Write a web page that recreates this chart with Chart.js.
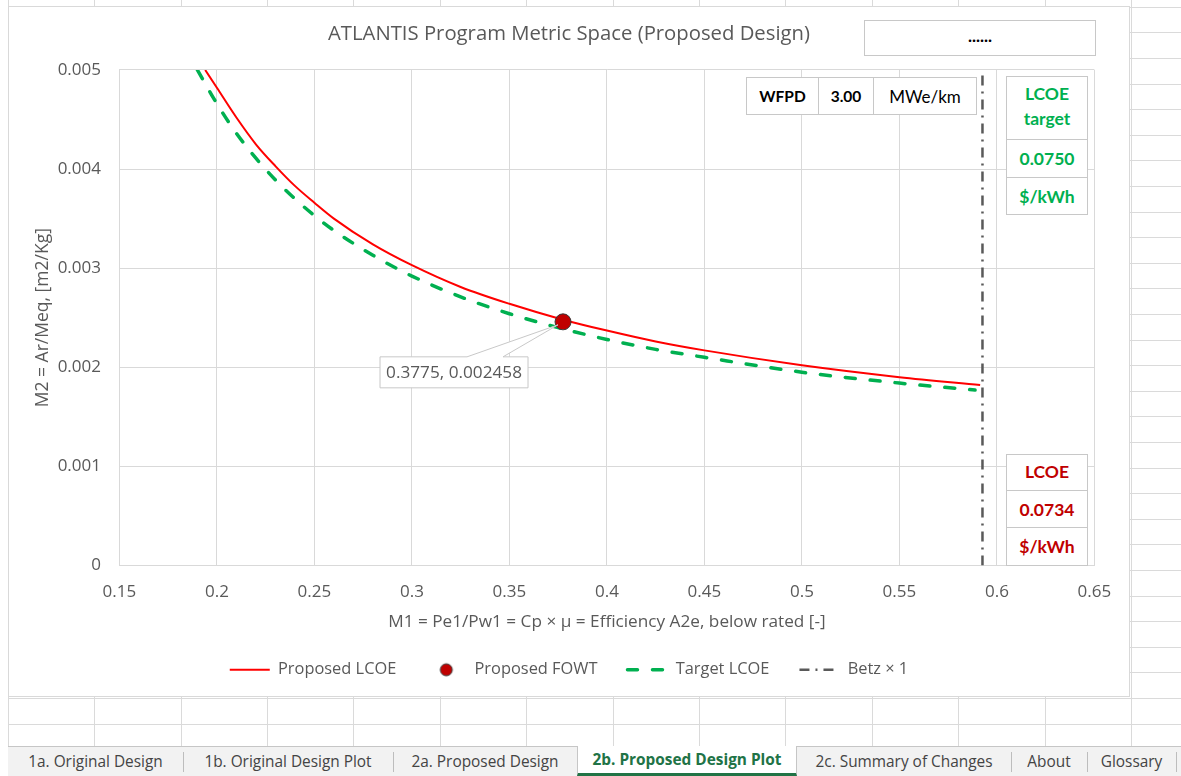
<!DOCTYPE html>
<html>
<head>
<meta charset="utf-8">
<title>ATLANTIS Program Metric Space</title>
<script src="https://cdn.jsdelivr.net/npm/chart.js@4.4.1/dist/chart.umd.min.js"></script>
<style>
  body { margin:0; width:1181px; height:776px; overflow:hidden; background:#fff; font-family: "Open Sans", Lato, sans-serif; position:relative; }
  .hl { position:absolute; height:1px; background:#dadada; }
  .vl { position:absolute; width:1px; background:#dadada; }
  #chartBox { position:absolute; left:8px; top:6px; width:1122px; height:691px; box-sizing:border-box; border:1px solid #d9d9d9; background:#fff; }
  #chartBox canvas { position:absolute; left:0; top:0; }
  .box { position:absolute; border-collapse:collapse; background:#fff; font-family: Lato, sans-serif; font-weight:bold; }
  .box td { border:1px solid #c8c8c8; text-align:center; padding:0; box-sizing:border-box; }
  #dots { position:absolute; left:864px; top:20px; width:232px; height:36px; box-sizing:border-box; border:1px solid #c8c8c8; background:#fff; text-align:center; line-height:30px; font-weight:bold; font-size:17px; font-family: Lato, sans-serif; }
  #tabs { position:absolute; left:8px; top:746px; width:1173px; height:30px; background:#f2f2f2; border-top:1px solid #c6c6c6; box-sizing:border-box; }
  .tab { position:absolute; top:0; height:29px; line-height:29px; text-align:center; font-size:15.4px; color:#444; }
  .sep { position:absolute; top:5px; width:1px; height:20px; background:#bdbdbd; }
  .tab.active { background:#fff; color:#217346; font-weight:bold; top:-1px; height:30px; border-left:1px solid #c6c6c6; border-right:1px solid #c6c6c6; box-sizing:border-box; border-bottom:3px solid #217346; line-height:28px; font-size:15.4px; }
</style>
</head>
<body>
<div id="sheet"></div>
<div id="chartBox"><canvas id="metricChart" width="1120" height="689"></canvas></div>

<div id="dots">......</div>

<table class="box" style="left:746px; top:77px; width:231px; height:38px; color:#000; font-size:15.5px;">
  <tr><td style="width:72px">WFPD</td><td style="width:55px">3.00</td><td style="font-weight:normal; font-size:17px">MWe/km</td></tr>
</table>

<table class="box" style="left:1006px; top:76px; width:82px; height:138px; color:#00b050; font-size:17.5px;">
  <tr><td style="height:63px; line-height:25px; padding-bottom:5px">LCOE<br>target</td></tr>
  <tr><td style="height:38px">0.0750</td></tr>
  <tr><td style="height:37px">$/kWh</td></tr>
</table>

<table class="box" style="left:1006px; top:454px; width:82px; height:111px; color:#c00000; font-size:17.5px;">
  <tr><td style="height:36px; padding-bottom:2px">LCOE</td></tr>
  <tr><td style="height:37px">0.0734</td></tr>
  <tr><td style="height:38px">$/kWh</td></tr>
</table>

<div id="tabs"></div>

<script>
// curve values
const propX = [0.194, 0.2, 0.21, 0.22, 0.23, 0.24, 0.25, 0.26, 0.28, 0.3, 0.325, 0.35, 0.3775, 0.4, 0.425, 0.45, 0.5, 0.55, 0.5914];
const propY = [0.00500, 0.00482, 0.00452, 0.00425, 0.00403, 0.00383, 0.00366, 0.00350, 0.00324, 0.00303, 0.00281, 0.00264, 0.00248, 0.00237, 0.00226, 0.00217, 0.00202, 0.00190, 0.00182];
const targX = [0.19, 0.2, 0.21, 0.22, 0.23, 0.24, 0.25, 0.26, 0.28, 0.3, 0.325, 0.35, 0.375, 0.4, 0.425, 0.45, 0.5, 0.55, 0.5888];
const targY = [0.00500, 0.00466, 0.00436, 0.00411, 0.00389, 0.00370, 0.00353, 0.00338, 0.00313, 0.00292, 0.00271, 0.00254, 0.00240, 0.00228, 0.00218, 0.00210, 0.00195, 0.00184, 0.00177];
const fowtX = [0.3775];
const fowtY = [0.002458];
const betzX = [0.5926, 0.5926];
const betzY = [0, 0.005];

const xTickLabels = ["0.15", "0.2", "0.25", "0.3", "0.35", "0.4", "0.45", "0.5", "0.55", "0.6", "0.65"];
const yTickLabels = ["0", "0.001", "0.002", "0.003", "0.004", "0.005"];
const seriesNames = ["Proposed LCOE", "Proposed FOWT", "Target LCOE", "Betz \u00d7 1"];
const tabNames = ["1a. Original Design", "1b. Original Design Plot", "2a. Proposed Design", "2b. Proposed Design Plot", "2c. Summary of Changes", "About", "Glossary"];

// spreadsheet grid behind the chart
const sheet = document.getElementById("sheet");
for (let k = 0; k < 14; k++) {
    const d = document.createElement("div");
    d.className = "vl";
    d.style.left = Math.round(7.7 + 86.4 * k) + "px";
    d.style.top = "0px";
    d.style.height = "746px";
    sheet.appendChild(d);
}
for (let k = 0; k < 29; k++) {
    const d = document.createElement("div");
    d.className = "hl";
    d.style.left = "8px";
    d.style.width = "1173px";
    d.style.top = Math.round(6.7 + 25.6 * k) + "px";
    sheet.appendChild(d);
}

// sheet tabs
const tabEdges = [0, 175, 385, 569, 789, 1003, 1079, 1168];
const tabs = document.getElementById("tabs");
tabNames.forEach((name, i) => {
    const t = document.createElement("div");
    t.className = "tab" + (i === 3 ? " active" : "");
    t.style.left = tabEdges[i] + "px";
    t.style.width = (tabEdges[i + 1] - tabEdges[i]) + "px";
    t.textContent = name;
    tabs.appendChild(t);
    if (i !== 2 && i !== 3) {
        const s = document.createElement("div");
        s.className = "sep";
        s.style.left = tabEdges[i + 1] + "px";
        tabs.appendChild(s);
    }
});

const toPoints = (xs, ys) => xs.map((x, i) => ({ x: x, y: ys[i] }));

// legend marker for the single point series
const dotImg = document.createElement("canvas");
dotImg.width = 16;
dotImg.height = 16;
const dc = dotImg.getContext("2d");
dc.beginPath();
dc.arc(8, 8, 6, 0, Math.PI * 2);
dc.fillStyle = "#c00000";
dc.fill();
dc.lineWidth = 1;
dc.strokeStyle = "#3a3a3a";
dc.stroke();

const font = "Open Sans";
const grey = "#595959";

// data label with callout for the design point
const callout = {
    id: "callout",
    afterDatasetsDraw(chart) {
        const pt = chart.getDatasetMeta(1).data[0];
        const ctx = chart.ctx;
        const x = pt.x, y = pt.y;
        const bx = x - 183, by = y + 35, bw = 148, bh = 31;
        ctx.save();
        ctx.beginPath();
        ctx.moveTo(bx, by);
        ctx.lineTo(x - 96, by);
        ctx.lineTo(x - 5, y + 3);
        ctx.lineTo(x - 60, by);
        ctx.lineTo(bx + bw, by);
        ctx.lineTo(bx + bw, by + bh);
        ctx.lineTo(bx, by + bh);
        ctx.closePath();
        ctx.fillStyle = "#fff";
        ctx.fill();
        ctx.strokeStyle = "#c8c8c8";
        ctx.lineWidth = 1;
        ctx.stroke();
        ctx.fillStyle = grey;
        ctx.font = "17.2px " + font;
        ctx.textAlign = "center";
        ctx.textBaseline = "middle";
        ctx.fillText(fowtX[0] + ", " + fowtY[0], bx + bw / 2, by + bh / 2 + 1);
        ctx.restore();
    }
};

new Chart(document.getElementById("metricChart"), {
    type: "line",
    data: {
        datasets: [
            {
                label: seriesNames[0],
                data: toPoints(propX, propY),
                borderColor: "#ff0000",
                backgroundColor: "#ff0000",
                borderWidth: 2,
                pointRadius: 0,
                cubicInterpolationMode: "monotone"
            },
            {
                label: seriesNames[1],
                data: toPoints(fowtX, fowtY),
                showLine: false,
                pointRadius: 8,
                pointBackgroundColor: "#c00000",
                pointBorderColor: "#3a3a3a",
                pointBorderWidth: 1,
                order: -1
            },
            {
                label: seriesNames[2],
                data: toPoints(targX, targY),
                borderColor: "#00b050",
                backgroundColor: "#00b050",
                borderWidth: 3.5,
                borderDash: [10, 15],
                borderCapStyle: "round",
                pointRadius: 0,
                cubicInterpolationMode: "monotone"
            },
            {
                label: seriesNames[3],
                data: toPoints(betzX, betzY),
                borderColor: grey,
                backgroundColor: grey,
                borderWidth: 2.5,
                borderDash: [10, 6, 2, 6],
                pointRadius: 0
            }
        ]
    },
    options: {
        responsive: false,
        animation: false,
        layout: { padding: { left: 0, right: 0, top: 0, bottom: 8 } },
        plugins: {
            tooltip: { enabled: false },
            title: {
                display: true,
                text: "ATLANTIS Program Metric Space (Proposed Design)",
                color: grey,
                font: { family: font, size: 20.3, weight: "normal" },
                padding: { top: 14.8, bottom: 23.8 }
            },
            legend: {
                position: "bottom",
                labels: {
                    color: grey,
                    font: { family: font, size: 16.4 },
                    usePointStyle: true,
                    pointStyleWidth: 40,
                    boxHeight: 8,
                    padding: 30,
                    sort: (a, b) => a.datasetIndex - b.datasetIndex,
                    generateLabels(chart) {
                        const items = Chart.defaults.plugins.legend.labels.generateLabels(chart);
                        items.forEach(it => {
                            const ds = chart.data.datasets[it.datasetIndex];
                            if (it.datasetIndex === 1) {
                                it.pointStyle = dotImg;
                            } else {
                                it.pointStyle = "line";
                                it.strokeStyle = ds.borderColor;
                                it.lineWidth = ds.borderWidth;
                                it.lineDash = ds.borderDash || [];
                                it.lineCap = ds.borderCapStyle || "butt";
                            }
                        });
                        return items;
                    }
                }
            }
        },
        scales: {
            x: {
                type: "linear",
                min: 0.15,
                max: 0.65,
                afterFit: s => { s.height = 66.2; },
                ticks: {
                    stepSize: 0.05,
                    padding: 16.4,
                    color: grey,
                    font: { family: font, size: 17 },
                    callback: (v, i) => xTickLabels[i]
                },
                grid: { color: "#d9d9d9", drawTicks: false },
                border: { color: "#d9d9d9" },
                title: {
                    display: true,
                    text: "M1 = Pe1/Pw1 = Cp \u00d7 \u03bc = Efficiency A2e, below rated [-]",
                    color: grey,
                    font: { family: font, size: 17.2 },
                    padding: { top: 0, bottom: -0.6 }
                }
            },
            y: {
                type: "linear",
                min: 0,
                max: 0.005,
                afterFit: s => { s.width = 110.4; },
                ticks: {
                    stepSize: 0.001,
                    padding: 18.4,
                    color: grey,
                    font: { family: font, size: 17 },
                    callback: (v, i) => yTickLabels[i]
                },
                grid: { color: "#d9d9d9", drawTicks: false },
                border: { color: "#d9d9d9" },
                title: {
                    display: true,
                    text: "M2 = Ar/Meq, [m2/Kg]",
                    color: grey,
                    font: { family: font, size: 17.5 },
                    padding: { top: 23.5, bottom: 0 }
                }
            },
            // empty right-hand axis that only keeps the plot clear of the chart edge
            gap: {
                position: "right",
                afterFit: s => { s.width = 34.6; },
                ticks: { display: false },
                grid: { display: false },
                border: { display: false }
            }
        }
    },
    plugins: [callout]
});
</script>
</body>
</html>
